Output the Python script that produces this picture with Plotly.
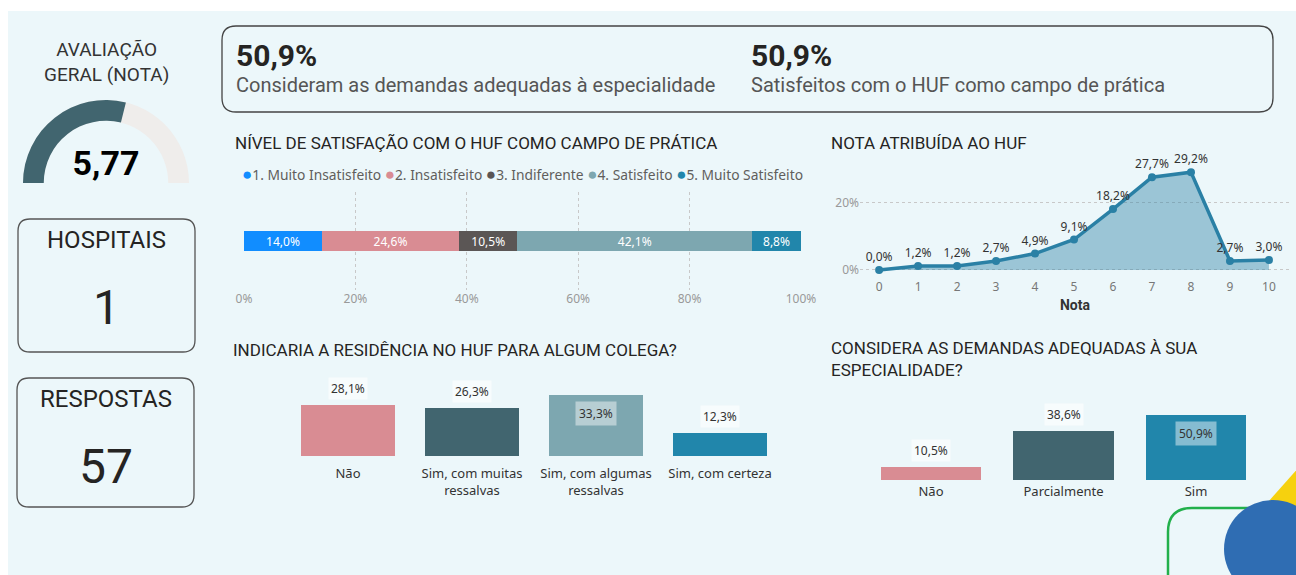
import plotly.graph_objects as go

W, H = 1296, 575


def px(x):
    return x / W


def py(y):
    return 1 - y / H


# ---------------- data ----------------
gauge_title = "AVALIAÇÃO<br>GERAL (NOTA)"
nota_geral = 5.77
nota_max = 10
card_titles = ["HOSPITAIS", "RESPOSTAS"]
card_values = [1, 57]
kpi_values = [50.9, 50.9]
kpi_labels = ["Consideram as demandas adequadas à especialidade",
              "Satisfeitos com o HUF como campo de prática"]

sat_title = "NÍVEL DE SATISFAÇÃO COM O HUF COMO CAMPO DE PRÁTICA"
sat_levels = ["1. Muito Insatisfeito", "2. Insatisfeito", "3. Indiferente",
              "4. Satisfeito", "5. Muito Satisfeito"]
sat_values = [14.0, 24.6, 10.5, 42.1, 8.8]
sat_ticks = [0, 20, 40, 60, 80, 100]

nota_title = "NOTA ATRIBUÍDA AO HUF"
notas = list(range(11))
nota_pct = [0.0, 1.2, 1.2, 2.7, 4.9, 9.1, 18.2, 27.7, 29.2, 2.7, 3.0]

ind_title = "INDICARIA A RESIDÊNCIA NO HUF PARA ALGUM COLEGA?"
ind_cats = ["Não", "Sim, com muitas<br>ressalvas", "Sim, com algumas<br>ressalvas", "Sim, com certeza"]
ind_values = [28.1, 26.3, 33.3, 12.3]

dem_title = "CONSIDERA AS DEMANDAS ADEQUADAS À SUA<br>ESPECIALIDADE?"
dem_cats = ["Não", "Parcialmente", "Sim"]
dem_values = [10.5, 38.6, 50.9]

# ---------------- style ----------------
sat_colors = ["#118DFF", "#D98C93", "#5B5655", "#7DA7B0", "#2186AB"]
ind_colors = ["#D98C93", "#41656F", "#7DA7B0", "#2186AB"]
dem_colors = ["#D98C93", "#41656F", "#2186AB"]
TITLE_FONT = "Roboto"
LABEL_FONT = "Noto Sans"
DARK = "#252423"
GREY = "#605E5C"
BG = "#ECF7FA"


def fmt(v):
    return f"{v:.1f}".replace(".", ",") + "%"


fig = go.Figure()

# gauge
fig.add_trace(go.Indicator(
    mode="gauge+number",
    value=nota_geral,
    number=dict(valueformat=".2f", font=dict(size=34, color="#000000", family="Roboto", weight="bold")),
    gauge=dict(
        shape="angular",
        axis=dict(range=[0, nota_max], visible=False),
        bar=dict(color="#41656F", thickness=1),
        bgcolor="#EFEDEB",
        borderwidth=0,
    ),
    domain=dict(x=[px(23), px(189)], y=[py(184), py(99)]),
))

# stacked satisfaction bar
for lvl, val, col in zip(sat_levels, sat_values, sat_colors):
    fig.add_trace(go.Bar(
        y=["Satisfação"], x=[val], orientation="h", name=lvl,
        marker=dict(color=col, line=dict(width=0)), width=0.2,
        text=[fmt(val)], textposition="inside", insidetextanchor="middle",
        constraintext="none",
        textfont=dict(color="white", size=12, family=LABEL_FONT),
        xaxis="x", yaxis="y", showlegend=False,
    ))

# nota line / area
fig.add_trace(go.Scatter(
    x=notas, y=nota_pct, mode="lines+markers+text",
    line=dict(color="#2A80A5", width=3.5),
    marker=dict(size=8, color="#2A80A5"),
    fill="tozeroy", fillcolor="rgba(42,128,165,0.42)",
    text=[fmt(v) for v in nota_pct], textposition="top center",
    textfont=dict(size=12, color="#333333", family=LABEL_FONT),
    xaxis="x2", yaxis="y2", showlegend=False, cliponaxis=False,
))

# indicaria bars
fig.add_trace(go.Bar(
    x=ind_cats, y=ind_values, marker=dict(color=ind_colors, line=dict(width=0)),
    width=0.766, xaxis="x3", yaxis="y3", showlegend=False,
))

# demandas bars
fig.add_trace(go.Bar(
    x=dem_cats, y=dem_values, marker=dict(color=dem_colors, line=dict(width=0)),
    width=0.755, xaxis="x4", yaxis="y4", showlegend=False,
))

annotations = []


def text(x, y, t, size, color=DARK, family=TITLE_FONT, xanchor="left", yanchor="middle", weight=None, align="left"):
    f = dict(size=size, color=color, family=family)
    if weight:
        f["weight"] = weight
    annotations.append(dict(x=px(x), y=py(y), xref="paper", yref="paper", text=t, showarrow=False,
                            xanchor=xanchor, yanchor=yanchor, font=f, align=align))


# left column
text(106, 62, gauge_title, 19, color="#333333", xanchor="center", align="center")
card_boxes = [(18, 219, 195, 352), (17, 378, 194, 507)]
for (x0, y0, x1, y1), t, v in zip(card_boxes, card_titles, card_values):
    text((x0 + x1) / 2, y0 + 21, t, 24, xanchor="center")
    text((x0 + x1) / 2, y0 + 88, str(v), 48, xanchor="center")

# KPI box
for xk, v, lab in zip([234, 749], kpi_values, kpi_labels):
    text(xk, 55, fmt(v), 30, weight="bold")
    text(xk, 85, lab, 20, color="#555555")

# chart titles
text(233, 143, sat_title, 17)
text(829, 143, nota_title, 17)
text(231, 350, ind_title, 17)
text(829, 359, dem_title, 17)

# satisfaction legend
legend_html = "".join(f"<span style='color:{c};font-size:17px'>●</span>{s} " for s, c in zip(sat_levels, sat_colors))
text(240, 174, legend_html.strip(), 13.8, color=GREY, family=LABEL_FONT)

# bar value labels
for xa, ya, cats, vals in [("x3", "y3", ind_cats, ind_values), ("x4", "y4", dem_cats, dem_values)]:
    vmax = max(vals)
    for c, v in zip(cats, vals):
        if v == vmax:
            annotations.append(dict(x=c, y=v, xref=xa, yref=ya, text=fmt(v), showarrow=False,
                                    yanchor="top", yshift=-6, bgcolor="rgba(255,255,255,0.45)",
                                    borderpad=3, font=dict(size=12, color="#333333", family=LABEL_FONT)))
        else:
            annotations.append(dict(x=c, y=v, xref=xa, yref=ya, text=fmt(v), showarrow=False,
                                    yanchor="bottom", yshift=5, bgcolor="rgba(255,255,255,0.6)",
                                    borderpad=2, font=dict(size=12, color="#333333", family=LABEL_FONT)))


def rrect(x0, y0, x1, y1, r):
    pts = [
        f"M {px(x0 + r)},{py(y0)}",
        f"L {px(x1 - r)},{py(y0)}",
        f"Q {px(x1)},{py(y0)} {px(x1)},{py(y0 + r)}",
        f"L {px(x1)},{py(y1 - r)}",
        f"Q {px(x1)},{py(y1)} {px(x1 - r)},{py(y1)}",
        f"L {px(x0 + r)},{py(y1)}",
        f"Q {px(x0)},{py(y1)} {px(x0)},{py(y1 - r)}",
        f"L {px(x0)},{py(y0 + r)}",
        f"Q {px(x0)},{py(y0)} {px(x0 + r)},{py(y0)}",
        "Z",
    ]
    return " ".join(pts)


shapes = [
    dict(type="rect", xref="paper", yref="paper", x0=px(8), x1=1, y0=0, y1=py(11),
         fillcolor=BG, line=dict(width=0), layer="below"),
    dict(type="path", xref="paper", yref="paper", path=rrect(222, 26, 1273, 112, 14),
         line=dict(color="#444444", width=1.3), layer="below"),
]
for (x0, y0, x1, y1) in card_boxes:
    shapes.append(dict(type="path", xref="paper", yref="paper", path=rrect(x0, y0, x1, y1, 12),
                       line=dict(color="#555555", width=1.3), layer="below"))
# decorations
shapes.append(dict(type="path", xref="paper", yref="paper",
                   path=f"M {px(1300)},{py(466)} L {px(1252)},{py(520)} L {px(1300)},{py(520)} Z",
                   fillcolor="#F6D10E", line=dict(width=0), layer="above"))
shapes.append(dict(type="path", xref="paper", yref="paper", path=rrect(1168, 508, 1330, 610, 24),
                   line=dict(color="#22B04B", width=2.5), layer="above"))
shapes.append(dict(type="circle", xref="paper", yref="paper",
                   x0=px(1224), x1=px(1322), y0=py(598), y1=py(500),
                   fillcolor="#2F6DB3", line=dict(width=0), layer="above"))

fig.update_layout(
    width=W, height=H, autosize=False, margin=dict(l=0, r=0, t=0, b=0, autoexpand=False),
    paper_bgcolor="white", plot_bgcolor="rgba(0,0,0,0)",
    separators=",.", barmode="stack", showlegend=False,
    annotations=annotations, shapes=shapes,
    xaxis=dict(domain=[px(244), px(801)], range=[0, 100], tickvals=sat_ticks, anchor="y",
               ticktext=[f"{t}%" for t in sat_ticks], showgrid=True, griddash="dot",
               gridcolor="#C8C8C8", zeroline=False, showline=False,
               tickfont=dict(size=12, color="#999999", family=LABEL_FONT), fixedrange=True),
    yaxis=dict(domain=[py(290), py(192)], range=[-0.5, 0.5], visible=False, anchor="x"),
    xaxis2=dict(domain=[px(860), px(1290)], range=[-0.49, 10.54], tickvals=notas, anchor="y2",
                showgrid=False, zeroline=False, showline=False,
                tickfont=dict(size=12, color="#777777", family=LABEL_FONT),
                title=dict(text="Nota", font=dict(size=14, color="#333333", family=TITLE_FONT, weight="bold"),
                           standoff=6)),
    yaxis2=dict(domain=[py(278), py(165)], range=[-2.39, 31.34], tickvals=[0, 20], anchor="x2",
                ticktext=["0%", "20%"], showgrid=True, griddash="dot", gridcolor="#C8C8C8",
                zeroline=False, showline=False,
                tickfont=dict(size=12, color="#999999", family=LABEL_FONT)),
    xaxis3=dict(domain=[px(286), px(782)], range=[-0.5, 3.5], showgrid=False, zeroline=False,
                showline=False, ticks="", ticklabelstandoff=8, anchor="y3",
                tickfont=dict(size=13, color="#333333", family=LABEL_FONT)),
    yaxis3=dict(domain=[py(456), py(380)], range=[0, 41.5], visible=False, anchor="x3"),
    xaxis4=dict(domain=[px(864.75), px(1262.25)], range=[-0.5, 2.5], showgrid=False, zeroline=False,
                showline=False, ticks="", ticklabelstandoff=2, anchor="y4",
                tickfont=dict(size=13, color="#333333", family=LABEL_FONT)),
    yaxis4=dict(domain=[py(480), py(405)], range=[0, 59], visible=False, anchor="x4"),
)

fig.write_html("out.html", config={"responsive": False, "displayModeBar": False},
               post_script="document.body.style.margin='0';document.body.style.overflow='hidden';")
